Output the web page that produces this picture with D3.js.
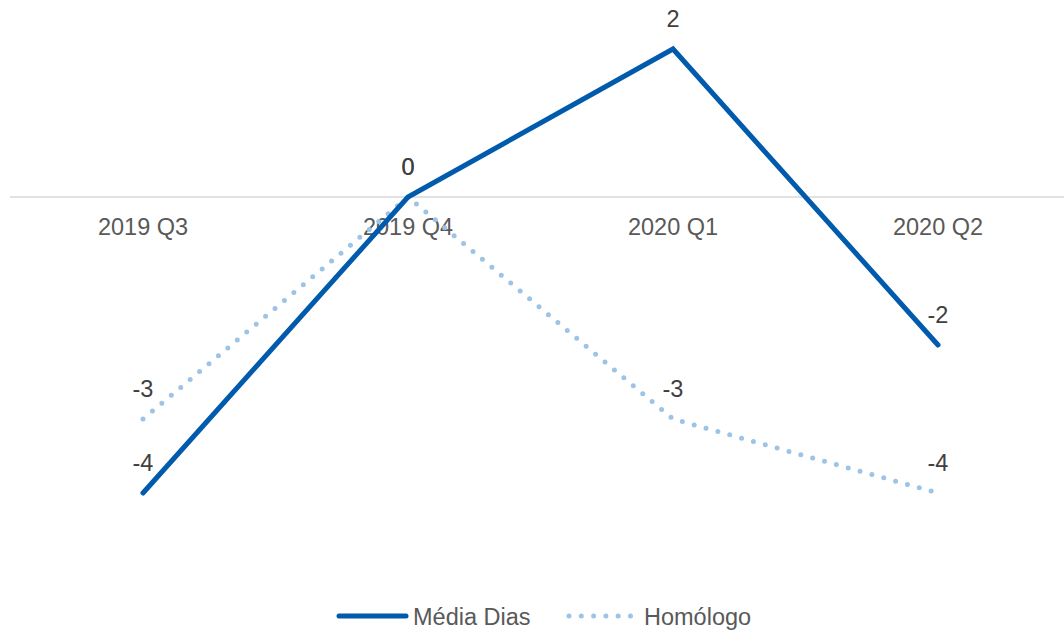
<!DOCTYPE html>
<html>
<head>
<meta charset="utf-8">
<script src="https://cdn.jsdelivr.net/npm/d3@7"></script>
<style>
  html, body { margin: 0; padding: 0; background: #fff; }
  svg { display: block; font-family: "Liberation Sans", Arial, sans-serif; }
</style>
</head>
<body>
<svg id="chart" width="1064" height="630"></svg>
<script>
const categories = ["2019 Q3", "2019 Q4", "2020 Q1", "2020 Q2"];
const mediaDias = [-4, 0, 2, -2];
const homologo = [-3, 0, -3, -4];
const seriesNames = ["Média Dias", "Homólogo"];

const W = 1064, H = 630;
const svg = d3.select("#chart");

const x = d3.scaleBand().domain(categories).range([10.5, 1070.5]);
const cx = c => x(c) + x.bandwidth() / 2;
const y = d3.scaleLinear().domain([-4, 2]).range([493, 49]);

// zero line
svg.append("line")
  .attr("x1", 10).attr("x2", W)
  .attr("y1", y(0)).attr("y2", y(0))
  .attr("stroke", "#d9d9d9").attr("stroke-width", 1.5);

// category labels
svg.append("g").selectAll("text").data(categories).join("text")
  .attr("x", d => cx(d)).attr("y", y(0) + 38)
  .attr("text-anchor", "middle")
  .attr("font-size", "23.5px").attr("fill", "#595959")
  .text(d => d);

const line = d3.line().x((d, i) => cx(categories[i])).y(d => y(d));

const colors = ["#005bac", "#9dc3e6"];

svg.append("path").datum(homologo)
  .attr("d", line).attr("fill", "none")
  .attr("stroke", colors[1]).attr("stroke-width", 5)
  .attr("stroke-linecap", "round").attr("stroke-dasharray", "0 12.3");

svg.append("path").datum(mediaDias)
  .attr("d", line).attr("fill", "none")
  .attr("stroke", colors[0]).attr("stroke-width", 5)
  .attr("stroke-linecap", "round").attr("stroke-linejoin", "miter");

// data labels
function labels(data) {
  svg.append("g").selectAll("text").data(data).join("text")
    .attr("x", (d, i) => cx(categories[i]))
    .attr("y", d => y(d) - 22)
    .attr("text-anchor", "middle")
    .attr("font-size", "23.5px").attr("fill", "#404040")
    .text(d => d3.format("d")(d).replace("−", "-"));
}
labels(mediaDias);
labels(homologo);

// legend
const ly = 616;
const lg = svg.append("g");
lg.append("line").attr("x1", 339).attr("x2", 406).attr("y1", ly).attr("y2", ly)
  .attr("stroke", colors[0]).attr("stroke-width", 5).attr("stroke-linecap", "round");
lg.append("text").attr("x", 413).attr("y", ly + 8.5)
  .attr("font-size", "23.5px").attr("fill", "#595959").text(seriesNames[0]);
lg.append("line").attr("x1", 569).attr("x2", 632).attr("y1", ly).attr("y2", ly)
  .attr("stroke", colors[1]).attr("stroke-width", 5).attr("stroke-linecap", "round")
  .attr("stroke-dasharray", "0 12.3");
lg.append("text").attr("x", 644).attr("y", ly + 8.5)
  .attr("font-size", "23.5px").attr("fill", "#595959").text(seriesNames[1]);
</script>
</body>
</html>
